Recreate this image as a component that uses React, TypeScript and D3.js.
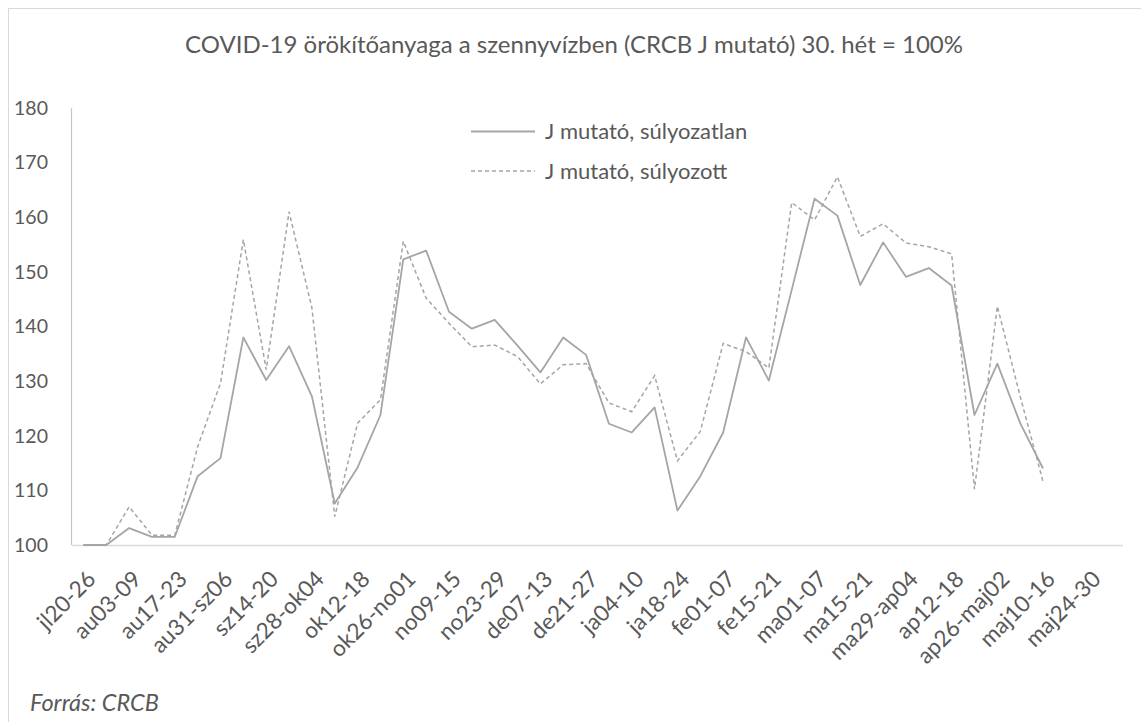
import React from "react";
import * as d3 from "d3";

const categories = [
  "jl20-26","jl27-au02","au03-09","au10-16","au17-23","au24-30","au31-sz06","sz07-13",
  "sz14-20","sz21-27","sz28-ok04","ok05-11","ok12-18","ok19-25","ok26-no01","no02-08",
  "no09-15","no16-22","no23-29","no30-de06","de07-13","de14-20","de21-27","de28-ja03",
  "ja04-10","ja11-17","ja18-24","ja25-31","fe01-07","fe08-14","fe15-21","fe22-28",
  "ma01-07","ma08-14","ma15-21","ma22-28","ma29-ap04","ap05-11","ap12-18","ap19-25",
  "ap26-maj02","maj03-09","maj10-16","maj17-23","maj24-30","maj31-jun06"
];

const unweighted = [
  100,100,103.1,101.5,101.5,112.6,115.9,138.0,130.2,136.4,127.2,107.6,114.2,123.8,
  152.3,153.9,142.7,139.6,141.2,136.5,131.6,138.0,134.8,122.2,120.6,125.2,106.3,112.6,
  120.6,138.0,130.1,146.7,163.4,160.3,147.6,155.4,149.1,150.7,147.5,123.8,133.2,122.3,114.0
];

const weighted = [
  100,100,107.0,101.8,101.8,118.0,129.6,155.9,132.1,161.0,143.4,105.2,122.3,126.6,
  155.6,145.2,140.6,136.3,136.6,134.5,129.5,133.0,133.2,126.0,124.4,131.0,115.4,120.8,
  136.9,135.4,132.4,162.7,159.5,167.4,156.5,158.8,155.3,154.6,153.3,110.2,143.7,127.2,111.6
];

const yTicks = [100, 110, 120, 130, 140, 150, 160, 170, 180];

const seriesNames = ["J mutató, súlyozatlan", "J mutató, súlyozott"];
const title = "COVID-19 örökítőanyaga a szennyvízben (CRCB J mutató) 30. hét = 100%";
const source = "Forrás: CRCB";

const W = 1141;
const H = 722;
const FONT = "Lato, 'Open Sans', sans-serif";
const TEXT = "#595959";
const LINE = "#a5a5a5";

export default function App() {
  const x = d3.scaleBand<string>().domain(categories).range([72, 1123]);
  const y = d3.scaleLinear().domain([100, 180]).range([545, 108]);
  const cx = (c: string) => (x(c) as number) + x.bandwidth() / 2;

  const line = d3
    .line<number>()
    .x((_, i) => cx(categories[i]))
    .y((d) => y(d));

  return (
    <svg
      width={W}
      height={H}
      style={{ position: "absolute", left: 0, top: 0, background: "#fff" }}
      fontFamily={FONT}
    >
      <rect x={8.5} y={8.5} width={W + 20} height={H + 20} fill="#fff" stroke="#d9d9d9" strokeWidth={1} />
      <text x={574} y={45} dy="0.35em" textAnchor="middle" fontSize={24} fill={TEXT}>
        {title}
      </text>

      {/* y axis */}
      <line x1={71.5} x2={71.5} y1={y(180)} y2={y(100)} stroke="#c6c6c6" strokeWidth={1.2} />
      {yTicks.map((t) => (
        <text key={t} x={48} y={y(t)} dy="0.35em" textAnchor="end" fontSize={19.5} fill={TEXT}>
          {t}
        </text>
      ))}

      {/* x axis baseline */}
      <line x1={72} x2={1123} y1={y(100) + 0.5} y2={y(100) + 0.5} stroke="#d9d9d9" strokeWidth={1.5} />
      {categories.map((c, i) =>
        i % 2 === 0 ? (
          <text
            key={c}
            transform={`translate(${cx(c) + 8},${y(100) + 30}) rotate(-45)`}
            textAnchor="end"
            dy="0.35em"
            fontSize={22.5}
            fill={TEXT}
          >
            {c}
          </text>
        ) : null
      )}

      {/* series */}
      <path d={line(unweighted) || ""} fill="none" stroke={LINE} strokeWidth={1.8} strokeLinejoin="round" />
      <path d={line(weighted) || ""} fill="none" stroke={LINE} strokeWidth={1.5} strokeDasharray="4,3" />

      {/* legend */}
      <line x1={471} x2={535} y1={131.5} y2={131.5} stroke={LINE} strokeWidth={1.8} />
      <text x={545} y={131.5} dy="0.35em" fontSize={22} fill={TEXT}>
        {seriesNames[0]}
      </text>
      <line x1={471} x2={535} y1={171} y2={171} stroke={LINE} strokeWidth={1.5} strokeDasharray="4,3" />
      <text x={545} y={171} dy="0.35em" fontSize={22} fill={TEXT}>
        {seriesNames[1]}
      </text>

      <text x={30} y={703} dy="0.35em" fontSize={23.5} fontStyle="italic" fill={TEXT}>
        {source}
      </text>
    </svg>
  );
}
